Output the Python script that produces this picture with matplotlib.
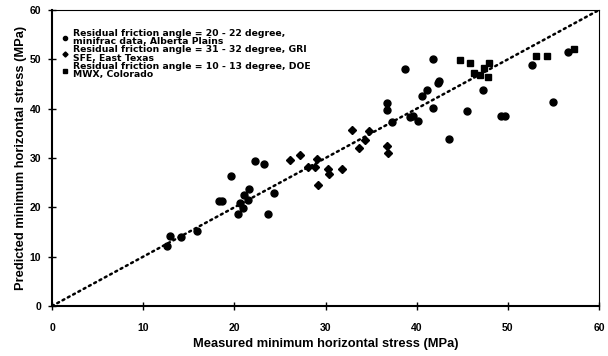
import matplotlib
matplotlib.use("Agg")
import matplotlib.pyplot as plt

plt.rcParams['font.family'] = ['Liberation Sans', 'DejaVu Sans']

# Alberta Plains (circles)
alberta_x = [12.6, 12.9, 14.2, 15.9, 18.3, 18.7, 19.6, 22.3, 23.3, 21.6, 21.1, 21.5, 20.6, 20.9,
             20.4, 23.7, 24.4, 36.7, 36.7, 37.3, 38.7, 39.3, 39.6, 40.1, 40.6, 41.1, 41.8, 41.8,
             42.3, 42.4, 43.5, 45.5, 47.3, 49.2, 49.7, 52.7, 54.9, 56.6]
alberta_y = [12.2, 14.2, 14.0, 15.2, 21.3, 21.3, 26.4, 29.4, 28.8, 23.7, 22.5, 21.5, 20.9, 19.9,
             18.7, 18.7, 22.9, 41.2, 39.8, 37.3, 48.1, 38.3, 38.5, 37.5, 42.6, 43.8, 40.2, 50.1,
             45.2, 45.6, 33.9, 39.6, 43.8, 38.5, 38.5, 48.9, 41.4, 51.5]
# East Texas (diamonds)
texas_x = [26.1, 27.2, 29.1, 28.1, 28.9, 30.3, 30.4, 31.8, 29.2, 32.9, 34.8, 34.3, 33.7, 36.7, 36.9]
texas_y = [29.6, 30.6, 29.8, 28.2, 28.2, 27.8, 26.8, 27.8, 24.5, 35.7, 35.5, 33.7, 32.0, 32.5, 31.0]
# Colorado (squares)
colorado_x = [44.7, 45.9, 46.3, 47.9, 47.4, 46.9, 47.8, 53.1, 54.3, 57.3]
colorado_y = [49.9, 49.3, 47.3, 49.3, 48.3, 46.9, 46.5, 50.7, 50.7, 52.1]

labels = ["Residual friction angle = 20 - 22 degree,\nminifrac data, Alberta Plains",
          "Residual friction angle = 31 - 32 degree, GRI\nSFE, East Texas",
          "Residual friction angle = 10 - 13 degree, DOE\nMWX, Colorado"]
ticks = [0, 10, 20, 30, 40, 50, 60]

fig = plt.figure(figsize=(6.08, 3.56), dpi=100)
ax = fig.add_axes([52/608, 1-306/356, 547/608, 296/356])

ax.plot([0, 60], [0, 60], color='black', lw=1.8, linestyle=(0, (0.8, 1.6)),
        dash_capstyle='round', zorder=1)
ax.plot(alberta_x, alberta_y, 'o', color='black', ms=5, ls='none', label=labels[0], zorder=3)
ax.plot(texas_x, texas_y, 'D', color='black', ms=4.3, ls='none', label=labels[1], zorder=3)
ax.plot(colorado_x, colorado_y, 's', color='black', ms=5, ls='none', label=labels[2], zorder=3)

ax.set_xlim(0, 60)
ax.set_ylim(0, 60)
ax.set_xticks(ticks)
ax.set_yticks(ticks)
ax.tick_params(direction='inout', length=6, width=1, labelsize=7.5)
ax.tick_params(axis='x', pad=9)
ax.tick_params(axis='y', pad=5)
for lab in ax.get_xticklabels() + ax.get_yticklabels():
    lab.set_fontweight('bold')
ax.spines['left'].set_linewidth(1.5)
ax.spines['bottom'].set_linewidth(1.5)
ax.spines['top'].set_linewidth(0.8)
ax.spines['right'].set_linewidth(0.8)

ax.set_xlabel("Measured minimum horizontal stress (MPa)", fontsize=9.3, fontweight='bold', labelpad=3.5)
ax.set_ylabel("Predicted minimum horizontal stress (MPa)", fontsize=9.3, fontweight='bold', labelpad=2)

leg = ax.legend(loc='upper left', bbox_to_anchor=(0.012, 0.95), frameon=False,
                prop={'size': 6.7, 'weight': 'bold', 'family': 'DejaVu Sans'},
                handlelength=0.6, handletextpad=0.5,
                labelspacing=-0.12, markerscale=0.6, borderaxespad=0)
for t in leg.get_texts():
    t.set_linespacing(0.95)

fig.savefig("out.png", dpi=100)
